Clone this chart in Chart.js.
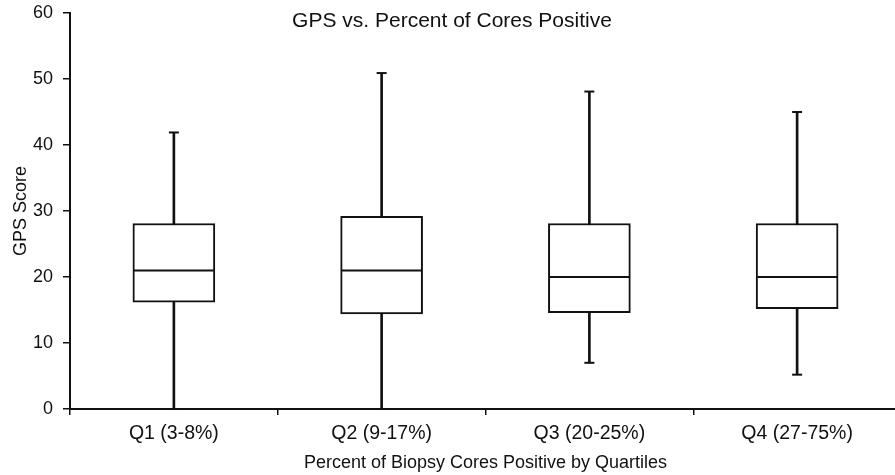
<!DOCTYPE html>
<html>
<head>
<meta charset="utf-8">
<script src="https://cdn.jsdelivr.net/npm/chart.js@4/dist/chart.umd.min.js"></script>
<style>
  html, body { margin: 0; padding: 0; background: #fff; overflow: hidden; }
  #wrap { width: 895px; height: 475px; overflow: hidden; }
  canvas { display: block; }
</style>
</head>
<body>
<div id="wrap"><canvas id="c" width="901" height="475"></canvas></div>
<script>
// GPS score distribution by quartile of positive biopsy cores
const categories = ['Q1 (3-8%)', 'Q2 (9-17%)', 'Q3 (20-25%)', 'Q4 (27-75%)'];
const minValues    = [0, 0, 7, 5.2];
const q1Values     = [16.2, 14.4, 14.6, 15.2];
const medianValues = [21, 21, 20, 20];
const q3Values     = [28.1, 29.2, 28.1, 28.1];
const maxValues    = [41.9, 50.9, 48.1, 45];
const yTicks = [0, 10, 20, 30, 40, 50, 60];
const chartTitle = 'GPS vs. Percent of Cores Positive';

const FONT = '"Liberation Sans", Arial, Helvetica, sans-serif';
const INK = '#111';

const boxes = q1Values.map((q, i) => [q, q3Values[i]]);
const whiskers = minValues.map((m, i) => [m, maxValues[i]]);

// The title sits inside the plot frame, so it is painted after layout
const overlayTitle = {
  id: 'overlayTitle',
  afterDraw(chart) {
    const { ctx, width } = chart;
    ctx.save();
    ctx.font = '21px ' + FONT;
    ctx.fillStyle = INK;
    ctx.textAlign = 'center';
    ctx.textBaseline = 'middle';
    ctx.fillText(chartTitle, width / 2 + 1.5, 21);
    ctx.restore();
  }
};

new Chart(document.getElementById('c'), {
  data: {
    labels: categories,
    datasets: [
      {
        type: 'bar', label: 'whisker', data: whiskers, order: 3, grouped: false,
        backgroundColor: INK, borderWidth: 0, barThickness: 2
      },
      {
        type: 'line', label: 'max', data: maxValues, order: 2, showLine: false,
        pointStyle: 'line', pointRadius: 5, pointBorderWidth: 2, pointBorderColor: INK,
        pointHoverRadius: 5
      },
      {
        type: 'line', label: 'min', data: minValues, order: 2, showLine: false,
        pointStyle: 'line', pointRadius: 5, pointBorderWidth: 2, pointBorderColor: INK,
        pointHoverRadius: 5
      },
      {
        type: 'bar', label: 'box', data: boxes, order: 1, grouped: false,
        backgroundColor: '#fff', borderColor: INK, borderWidth: 2,
        borderSkipped: false, barThickness: 82
      },
      {
        type: 'line', label: 'median', data: medianValues, order: 0, showLine: false,
        pointStyle: 'line', pointRadius: 40, pointBorderWidth: 2, pointBorderColor: INK,
        pointHoverRadius: 40
      }
    ]
  },
  plugins: [overlayTitle],
  options: {
    responsive: false,
    animation: false,
    events: [],
    layout: { autoPadding: false, padding: { top: 13, left: 0, right: 0, bottom: 0 } },
    plugins: {
      legend: { display: false },
      tooltip: { enabled: false },
      title: { display: false }
    },
    scales: {
      x: {
        type: 'category',
        offset: true,
        grid: { display: true, drawOnChartArea: false, drawTicks: true, tickLength: 6, color: INK, lineWidth: 1.5, offset: true },
        border: { display: true, color: INK, width: 2 },
        ticks: { color: INK, font: { family: FONT, size: 19.5 }, padding: 7, maxRotation: 0 },
        title: {
          display: true, text: 'Percent of Biopsy Cores Positive by Quartiles', color: INK,
          font: { family: FONT, size: 18, lineHeight: 1.2 }, padding: { top: 0, bottom: 1 }
        },
        afterFit: s => { s.height = 66; s.paddingLeft = 0; s.paddingRight = 0; }
      },
      y: {
        min: 0, max: 60,
        afterBuildTicks: s => { s.ticks = yTicks.map(v => ({ value: v })); },
        grid: { display: true, drawOnChartArea: false, drawTicks: true, tickLength: 7, color: INK, lineWidth: 1.5 },
        border: { display: true, color: INK, width: 2 },
        ticks: { color: INK, font: { family: FONT, size: 18 }, padding: 10 },
        title: {
          display: true, text: 'GPS Score', color: INK,
          font: { family: FONT, size: 18, lineHeight: 1.2 }, padding: { top: 10, bottom: 0 }
        },
        afterFit: s => { s.width = 70; s.paddingTop = 0; s.paddingBottom = 0; }
      }
    }
  }
});
</script>
</body>
</html>
